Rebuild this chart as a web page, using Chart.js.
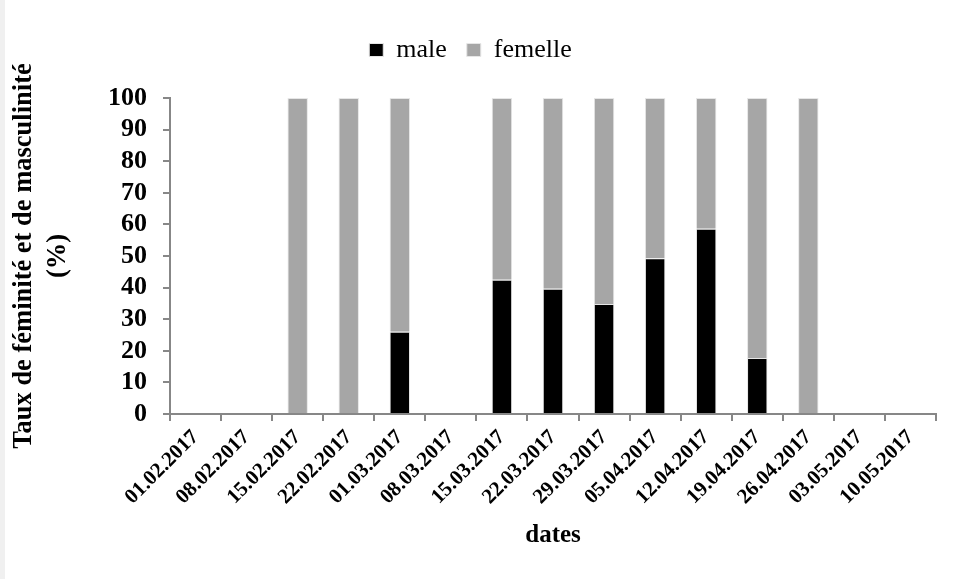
<!DOCTYPE html>
<html>
<head>
<meta charset="utf-8">
<script src="https://cdn.jsdelivr.net/npm/chart.js@4.4.0/dist/chart.umd.min.js"></script>
<style>
  html, body { margin: 0; padding: 0; background: #f0f0f0; }
  #wrap { position: absolute; left: 5px; top: 0; width: 948px; height: 579px; background: #fff; }
</style>
</head>
<body>
<div id="wrap"><canvas id="c" width="948" height="579"></canvas></div>
<script>
// données
const dates = ['01.02.2017', '08.02.2017', '15.02.2017', '22.02.2017', '01.03.2017',
  '08.03.2017', '15.03.2017', '22.03.2017', '29.03.2017', '05.04.2017',
  '12.04.2017', '19.04.2017', '26.04.2017', '03.05.2017', '10.05.2017'];
const male = [0, 0, 0, 0, 26, 0, 42.5, 39.6, 34.8, 49.3, 58.6, 17.7, 0, 0, 0];
const femelle = [0, 0, 100, 100, 74, 0, 57.5, 60.4, 65.2, 50.7, 41.4, 82.3, 100, 0, 0];
const yTicks = [0, 10, 20, 30, 40, 50, 60, 70, 80, 90, 100];

const serif = '"Liberation Serif", "Times New Roman", Tinos, "DejaVu Serif", "Noto Serif", serif';
const axisGrey = '#878787';
Chart.defaults.font.family = serif;
Chart.defaults.color = '#000';

// espace fixe sous la légende
const legendGap = {
  id: 'legendGap',
  beforeInit(chart) {
    const fit = chart.legend.fit;
    chart.legend.fit = function () {
      fit.bind(chart.legend)();
      this.height += 25;
    };
  }
};

function draw() {
  new Chart(document.getElementById('c'), {
    type: 'bar',
    data: {
      labels: dates,
      datasets: [
        { label: 'male', data: male, backgroundColor: '#000000', borderColor: '#e6e6e6', borderWidth: 1 },
        { label: 'femelle', data: femelle, backgroundColor: '#a6a6a6', borderColor: '#e6e6e6', borderWidth: 1 }
      ]
    },
    options: {
      responsive: false,
      animation: false,
      layout: { padding: { top: 17, right: 17, left: 0, bottom: 0 } },
      datasets: { bar: { categoryPercentage: 1, barPercentage: 0.4 } },
      plugins: {
        tooltip: { enabled: false },
        legend: {
          position: 'top',
          labels: {
            color: '#000',
            font: { family: serif, size: 26, style: 'normal', weight: 400 },
            boxWidth: 14, boxHeight: 13, padding: 20
          }
        }
      },
      scales: {
        x: {
          stacked: true,
          grid: { drawOnChartArea: false, drawTicks: true, tickLength: 7, color: axisGrey, lineWidth: 2, offset: true },
          border: { color: axisGrey, width: 2 },
          ticks: {
            color: '#000', font: { family: serif, size: 21, weight: 'bold' },
            minRotation: 45, maxRotation: 45, padding: 4, autoSkip: false
          },
          title: {
            display: true, text: 'dates', color: '#000',
            font: { family: serif, size: 25, weight: 'bold' },
            padding: { top: 0, bottom: 28 }
          },
          afterFit(scale) { scale.height = 165; }
        },
        y: {
          stacked: true,
          min: 0, max: 100,
          afterBuildTicks(scale) { scale.ticks = yTicks.map(v => ({ value: v })); },
          grid: { drawOnChartArea: false, drawTicks: true, tickLength: 7, color: axisGrey, lineWidth: 2 },
          border: { color: axisGrey, width: 2 },
          ticks: {
            color: '#000', font: { family: serif, size: 26, weight: 'bold' }, padding: 16, autoSkip: false
          },
          title: {
            display: true, text: ['Taux de féminité et de masculinité', '(%)'], color: '#000',
            font: { family: serif, size: 26.5, weight: 'bold', lineHeight: 1.25 },
            padding: { top: 3, bottom: 0 }
          },
          afterFit(scale) { scale.width = 165; }
        }
      }
    },
    plugins: [legendGap]
  });
}

Promise.all([
  document.fonts.load('26px "Liberation Serif"'),
  document.fonts.load('bold 26px "Liberation Serif"')
]).then(draw, draw);
</script>
</body>
</html>
